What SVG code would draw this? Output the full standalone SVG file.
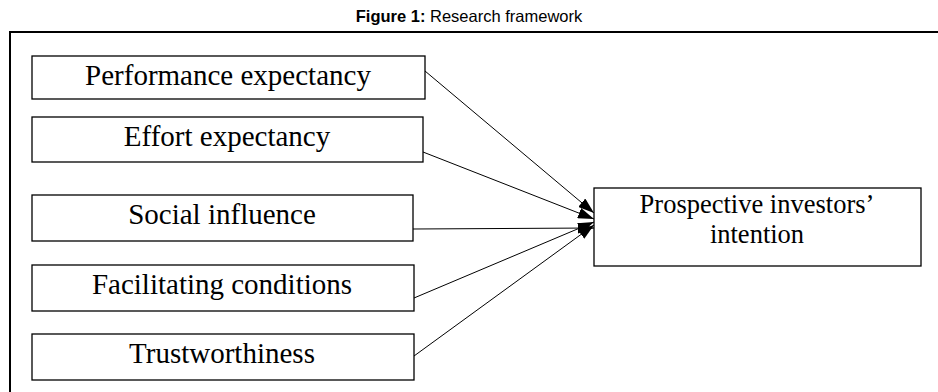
<svg xmlns="http://www.w3.org/2000/svg" width="938" height="392" viewBox="0 0 938 392">
<defs>
<marker id="ah" viewBox="0 0 16 11" refX="16" refY="5.5" markerWidth="16" markerHeight="11" markerUnits="userSpaceOnUse" orient="auto">
<path d="M0,0 L16,5.5 L0,11 z" fill="#000"/>
</marker>
</defs>
<style>
.box{fill:#fff;stroke:#000;stroke-width:1.3}
.lbl{font-family:"Liberation Serif","Times New Roman",serif;font-size:29px;fill:#000;text-anchor:middle}
.tgt{font-size:26.5px}
.edge{stroke:#000;stroke-width:1;fill:none;marker-end:url(#ah)}
.title{font-family:"Liberation Sans",Arial,sans-serif;font-size:16.5px;fill:#000;text-anchor:middle}
</style>
<rect width="938" height="392" fill="#fff"/>
<text class="title" x="469" y="22"><tspan font-weight="bold">Figure 1:</tspan> Research framework</text>
<path d="M10,400 L10,32 L940,32" fill="none" stroke="#000" stroke-width="2"/>
<g id="connectors">
<line class="edge" x1="425" y1="71" x2="594" y2="213"/>
<line class="edge" x1="423" y1="152" x2="594" y2="219"/>
<line class="edge" x1="413" y1="229" x2="594" y2="228"/>
<line class="edge" x1="414" y1="298" x2="594" y2="222"/>
<line class="edge" x1="414" y1="356" x2="594" y2="225"/>
</g>
<g id="n1"><rect class="box" x="32" y="56" width="393" height="43"/><text class="lbl" x="228" y="85">Performance expectancy</text></g>
<g id="n2"><rect class="box" x="32" y="117" width="391" height="45"/><text class="lbl" x="227" y="146">Effort expectancy</text></g>
<g id="n3"><rect class="box" x="32" y="195" width="381" height="46"/><text class="lbl" x="222" y="224">Social influence</text></g>
<g id="n4"><rect class="box" x="32" y="265" width="382" height="46"/><text class="lbl" x="222" y="294">Facilitating conditions</text></g>
<g id="n5"><rect class="box" x="32" y="334" width="382" height="46"/><text class="lbl" x="222" y="363">Trustworthiness</text></g>
<g id="n6"><rect class="box" x="594" y="188" width="327" height="78"/><text class="lbl tgt" x="757" y="213">Prospective investors’</text><text class="lbl tgt" x="757" y="243">intention</text></g>
</svg>
